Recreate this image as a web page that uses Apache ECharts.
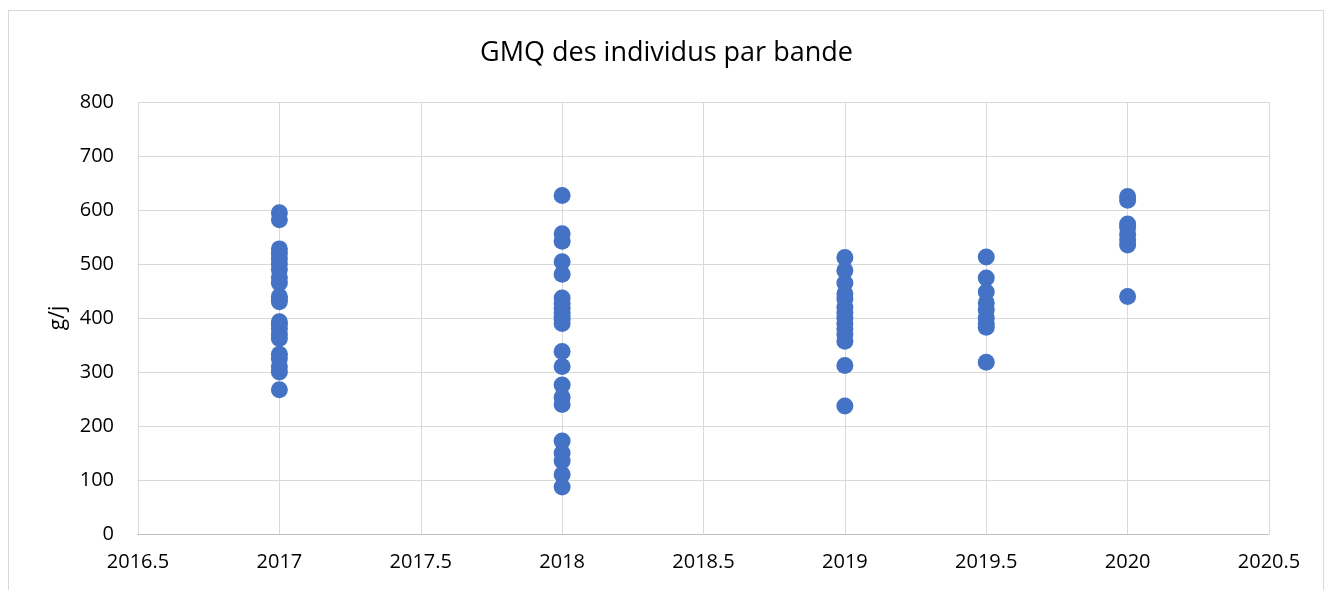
<!DOCTYPE html>
<html>
<head>
<meta charset="utf-8">
<script src="https://cdn.jsdelivr.net/npm/echarts@6/dist/echarts.min.js"></script>
<style>
  html, body { margin: 0; padding: 0; background: #fff; }
  #frame { position: absolute; left: 8px; top: 10px; width: 1316px; height: 590px; border: 1px solid #d9d9d9; box-sizing: border-box; }
  #chart { width: 1333px; height: 590px; }
</style>
</head>
<body>
<div id="frame"></div>
<div id="chart"></div>
<script>
// bands (x) and GMQ values (g/j) per band
var bands = [2017, 2018, 2019, 2019.5, 2020];
var gmq2017 = [595, 582, 528, 520, 510, 500, 490, 475, 465, 440, 435, 430, 393, 388, 380, 370, 362, 333, 325, 310, 300, 267];
var gmq2018 = [627, 556, 542, 504, 481, 437, 427, 418, 410, 403, 397, 390, 338, 310, 276, 253, 240, 172, 150, 135, 110, 87];
var gmq2019 = [512, 488, 465, 445, 435, 420, 410, 400, 390, 380, 370, 357, 312, 237];
var gmq2019b = [513, 474, 448, 428, 415, 400, 390, 383, 318];
var gmq2020 = [625, 618, 574, 568, 555, 545, 535, 440];

var xTicks = [2016.5, 2017, 2017.5, 2018, 2018.5, 2019, 2019.5, 2020, 2020.5];

function ChartLoad() {
    var chart = echarts.init(document.getElementById('chart'));

    var groups = [gmq2017, gmq2018, gmq2019, gmq2019b, gmq2020];
    var points = [];
    groups.forEach(function (vals, i) {
        vals.forEach(function (v) {
            points.push([bands[i], v]);
        });
    });

    var option = {
        animation: false,
        title: {
            text: 'GMQ des individus par bande',
            left: 'center',
            top: 35,
            textStyle: {
                fontFamily: 'Open Sans',
                fontSize: 27,
                fontWeight: 'normal',
                color: '#000'
            }
        },
        grid: {
            left: 138,
            right: 64,
            top: 102,
            bottom: 56
        },
        xAxis: {
            type: 'value',
            min: 2016.5,
            max: 2020.5,
            interval: 0.5,
            axisLine: { show: true, lineStyle: { color: '#bfbfbf' } },
            axisTick: { show: false },
            splitLine: { show: true, lineStyle: { color: '#d9d9d9', width: 1 } },
            axisLabel: {
                fontFamily: 'Open Sans',
                fontSize: 20,
                color: '#000',
                margin: 18,
                formatter: function (v) { return String(v); }
            }
        },
        yAxis: {
            type: 'value',
            min: 0,
            max: 800,
            interval: 100,
            name: 'g/j',
            nameLocation: 'middle',
            nameGap: 68,
            nameRotate: 90,
            nameTextStyle: { fontFamily: 'Open Sans', fontSize: 21, color: '#000' },
            axisLine: { show: false },
            axisTick: { show: false },
            splitLine: { show: true, lineStyle: { color: '#d9d9d9', width: 1 } },
            axisLabel: {
                fontFamily: 'Open Sans',
                fontSize: 20,
                color: '#000',
                margin: 24
            }
        },
        series: [
            {
                type: 'scatter',
                data: points,
                symbolSize: 17,
                itemStyle: { color: '#4472C4', opacity: 1 }
            }
        ]
    };

    chart.setOption(option, true);
}

ChartLoad();
</script>
</body>
</html>
